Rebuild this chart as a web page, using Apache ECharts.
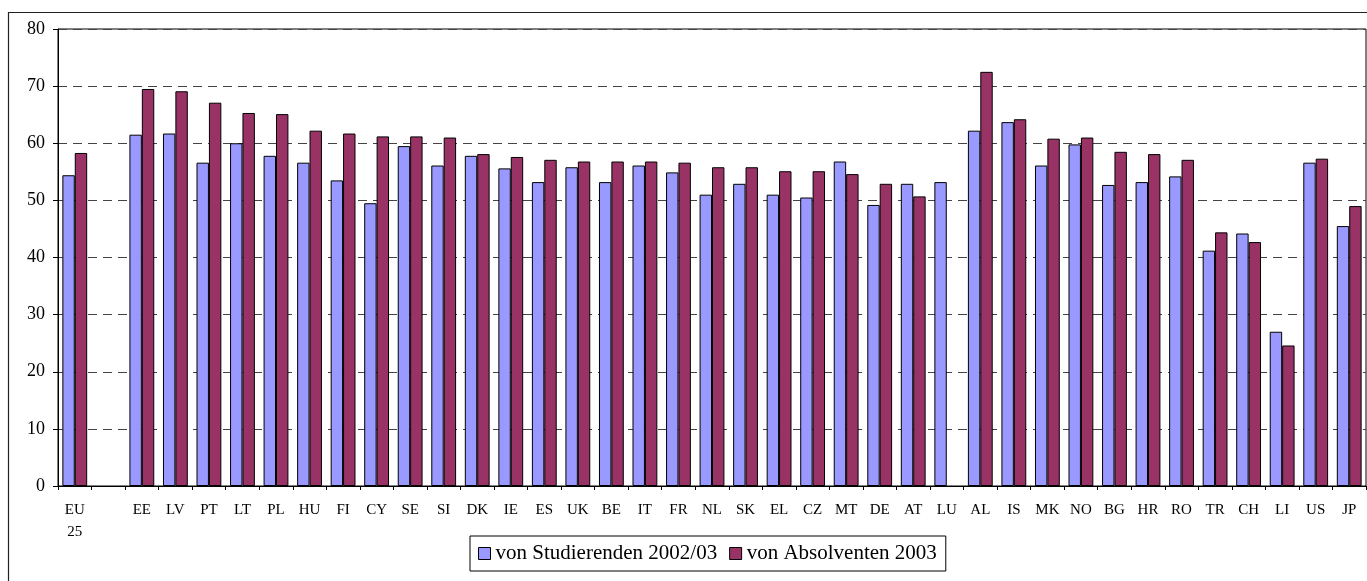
<!DOCTYPE html>
<html>
<head>
<meta charset="utf-8">
<script src="https://cdn.jsdelivr.net/npm/echarts@6/dist/echarts.min.js"></script>
<style>
html,body{margin:0;padding:0;background:#fff;}
#c{width:1367px;height:581px;}
</style>
</head>
<body>
<div id="c"></div>
<script>
const categories = ["EU\n25","","EE","LV","PT","LT","PL","HU","FI","CY","SE","SI","DK","IE","ES","UK","BE","IT","FR","NL","SK","EL","CZ","MT","DE","AT","LU","AL","IS","MK","NO","BG","HR","RO","TR","CH","LI","US","JP"];
const studierenden = [54.4,null,61.5,61.7,56.6,60.0,57.8,56.6,53.5,49.5,59.5,56.1,57.8,55.6,53.2,55.8,53.2,56.1,54.9,51.0,52.9,51.0,50.5,56.8,49.2,52.9,53.2,62.2,63.7,56.1,59.8,52.7,53.2,54.2,41.2,44.2,27.0,56.6,45.5];
const absolventen = [58.3,null,69.5,69.1,67.1,65.3,65.1,62.2,61.7,61.2,61.2,61.0,58.1,57.6,57.1,56.8,56.8,56.8,56.6,55.8,55.8,55.1,55.1,54.6,52.9,50.7,null,72.5,64.2,60.8,61.0,58.5,58.1,57.1,44.4,42.7,24.6,57.3,49.0];
const seriesNames = ["von Studierenden 2002/03","von Absolventen 2003"];
const yTicks = {min:0,max:80,interval:10};

const font = '"Liberation Serif","Times New Roman",Times,serif';
const chart = echarts.init(document.getElementById('c'));
chart.setOption({
  animation:false,
  backgroundColor:'#fff',
  graphic:[{type:'rect',shape:{x:8.5,y:12.5,width:1400,height:620},style:{fill:'none',stroke:'#222',lineWidth:1.2},silent:true,z:-1}],
  grid:{left:58,top:29,right:1,bottom:95,show:true,borderColor:'#000',borderWidth:1,backgroundColor:'transparent'},
  legend:{
    left:470, top:536,
    padding:[7,9,7,8],
    borderColor:'#000', borderWidth:1,
    itemWidth:12, itemHeight:12, itemGap:12,
    icon:'rect',
    textStyle:{fontFamily:font,fontSize:21,color:'#000'},
    itemStyle:{borderColor:'#000',borderWidth:1}
  },
  xAxis:{
    type:'category',
    data:categories,
    axisLine:{lineStyle:{color:'#000',width:1}},
    axisTick:{show:true,interval:0,length:4,lineStyle:{color:'#000'}},
    axisLabel:{interval:0,fontFamily:font,fontSize:15,color:'#000',margin:13,lineHeight:22}
  },
  yAxis:{
    type:'value',
    min:yTicks.min,max:yTicks.max,interval:yTicks.interval,
    axisLine:{show:true,lineStyle:{color:'#000',width:1}},
    axisTick:{show:true,length:5,lineStyle:{color:'#000'}},
    axisLabel:{fontFamily:font,fontSize:18,color:'#000',margin:13},
    splitLine:{show:true,lineStyle:{color:'#444',type:[9,6],width:1}}
  },
  series:[
    {name:seriesNames[0],type:'bar',data:studierenden,barGap:'0%',barCategoryGap:'26%',
     itemStyle:{color:'#9999FF',borderColor:'#000',borderWidth:1}},
    {name:seriesNames[1],type:'bar',data:absolventen,
     itemStyle:{color:'#993366',borderColor:'#000',borderWidth:1}}
  ]
});
</script>
</body>
</html>
